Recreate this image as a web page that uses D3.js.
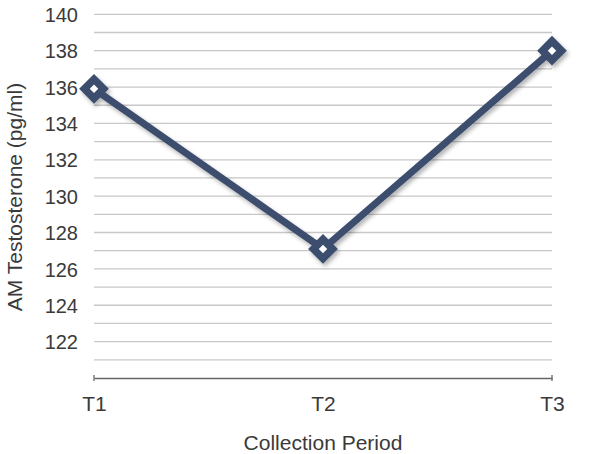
<!DOCTYPE html>
<html><head><meta charset="utf-8">
<script src="https://cdn.jsdelivr.net/npm/d3@7"></script>
<style>body{margin:0;background:#fff}svg{display:block}text{font-family:"Liberation Sans",Arial,sans-serif;fill:#3a3a3a}</style>
</head><body><div id="c"></div>
<script>
const categories = ["T1","T2","T3"];
const values = [135.9, 127.1, 138.0];
const yTickLabels = [122,124,126,128,130,132,134,136,138,140];
const gridValues = [121,122,123,124,125,126,127,128,129,130,131,132,133,134,135,136,137,138,139,140];

const W=600,H=454;
const svg=d3.select("#c").append("svg").attr("width",W).attr("height",H);
const defs=svg.append("defs");
const f=defs.append("filter").attr("id","sh").attr("x","-20%").attr("y","-20%").attr("width","140%").attr("height","140%");
f.append("feDropShadow").attr("dx",2).attr("dy",3).attr("stdDeviation",2).attr("flood-color","#000").attr("flood-opacity",0.3);

const x=d3.scalePoint().domain(categories).range([94,552]);
const y=d3.scaleLinear().domain([120,140]).range([378,14.3]);

svg.append("g").selectAll("line").data(gridValues).join("line")
 .attr("x1",94).attr("x2",552).attr("y1",d=>y(d)).attr("y2",d=>y(d))
 .attr("stroke","#c8c8c8").attr("stroke-width",1.3);

const ya=svg.append("g").attr("transform","translate(78,0)")
 .call(d3.axisLeft(y).tickValues(yTickLabels).tickSize(0).tickPadding(0).tickFormat(d3.format("d")));
ya.select(".domain").remove();
ya.selectAll("text").attr("font-size",20).attr("fill","#3a3a3a").attr("dy","0.36em").style("font-family","'Liberation Sans',Arial,sans-serif");

const xa=svg.append("g").attr("transform","translate(0,378)")
 .call(d3.axisBottom(x).tickSize(0).tickPadding(0));
xa.select(".domain").attr("stroke","#666").attr("stroke-width",1.5);
xa.selectAll("text").attr("font-size",21).attr("fill","#3a3a3a").attr("dy",0).attr("y",33).style("font-family","'Liberation Sans',Arial,sans-serif");
xa.append("line").attr("x1",94).attr("x2",94).attr("y1",-3).attr("y2",3).attr("stroke","#666").attr("stroke-width",1.3);
xa.append("line").attr("x1",552).attr("x2",552).attr("y1",-3).attr("y2",3).attr("stroke","#666").attr("stroke-width",1.3);

svg.append("text").attr("x",323).attr("y",450).attr("text-anchor","middle").attr("font-size",21).text("Collection Period");
svg.append("text").attr("transform","translate(22,197) rotate(-90)").attr("text-anchor","middle").attr("font-size",21).text("AM Testosterone (pg/ml)");

const g=svg.append("g").attr("filter","url(#sh)");
const line=d3.line().x((d,i)=>x(categories[i])).y(d=>y(d));
g.append("path").datum(values).attr("d",line).attr("fill","none").attr("stroke","#3c4d6d").attr("stroke-width",7).attr("stroke-linejoin","miter");
const m=g.selectAll("g.m").data(values).join("g").attr("class","m")
 .attr("transform",(d,i)=>`translate(${x(categories[i])},${y(d)}) rotate(45)`);
m.append("rect").attr("x",-10.5).attr("y",-10.5).attr("width",21).attr("height",21).attr("fill","#3c4d6d");
m.append("rect").attr("x",-3).attr("y",-3).attr("width",6).attr("height",6).attr("fill","#fff");
</script></body></html>
